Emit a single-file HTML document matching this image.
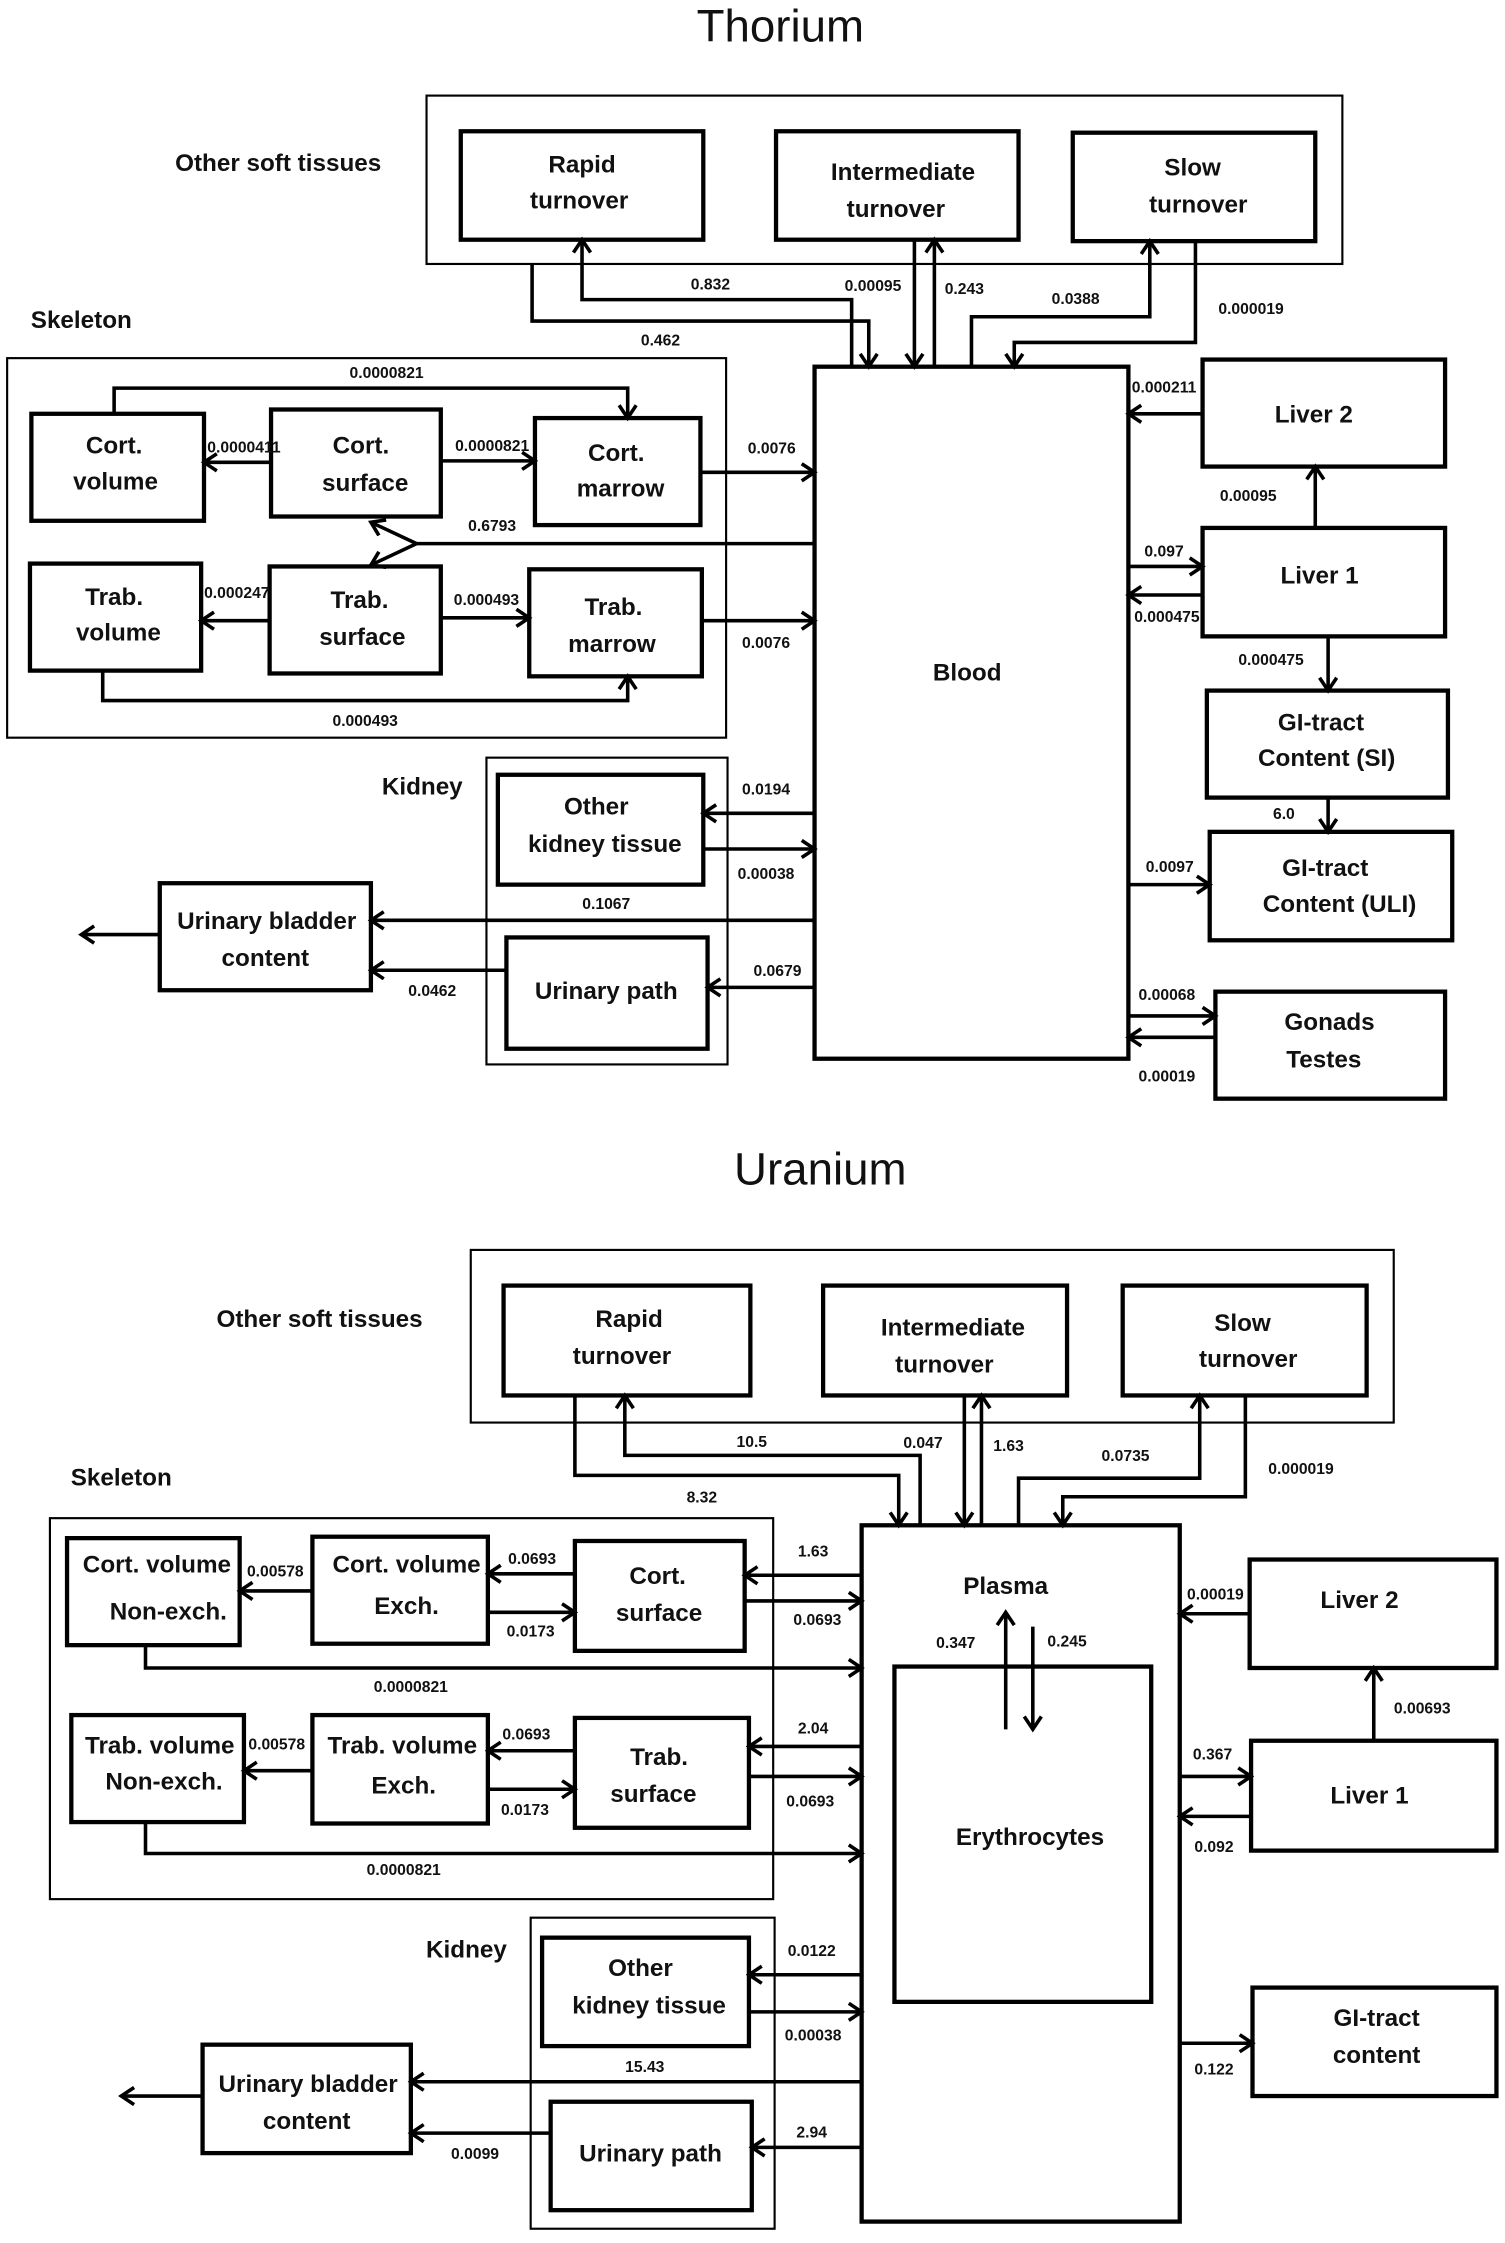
<!DOCTYPE html>
<html><head><meta charset="utf-8"><style>
html,body{margin:0;padding:0;background:#fff}
svg{display:block}
text{font-family:"Liberation Sans",sans-serif;fill:#111}
.b{font-weight:bold;font-size:17px;text-anchor:middle}
.n{font-size:11px;text-anchor:middle;font-weight:bold}
.t{font-size:32px;text-anchor:middle}
.l{font-weight:bold;font-size:17px;text-anchor:middle}
rect.bx{fill:#fff;stroke:#000;stroke-width:3}
rect.c{fill:none;stroke:#000;stroke-width:1.5}
.ln{fill:none;stroke:#000;stroke-width:2.5}
.a{fill:none;stroke:#000;stroke-width:2.5;marker-end:url(#ah)}
</style></head><body>
<svg width="1505" height="2243" viewBox="0 0 1055 1572" preserveAspectRatio="none" xmlns="http://www.w3.org/2000/svg">
<defs><marker id="ah" markerUnits="userSpaceOnUse" markerWidth="16" markerHeight="16" refX="11" refY="7" orient="auto"><path d="M2,1 L11,7 L2,13" fill="none" stroke="#000" stroke-width="2.5"/></marker></defs>

<!-- THORIUM -->
<text class="t" x="547" y="29">Thorium</text>
<rect class="c" x="299" y="67" width="642" height="118"/>
<text class="l" x="195" y="120">Other soft tissues</text>
<rect class="bx" x="323" y="92" width="170" height="76"/><text class="b" x="408" y="121">Rapid</text><text class="b" x="406" y="146">turnover</text>
<rect class="bx" x="544" y="92" width="170" height="76"/><text class="b" x="633" y="126">Intermediate</text><text class="b" x="628" y="152">turnover</text>
<rect class="bx" x="752" y="93" width="170" height="76"/><text class="b" x="836" y="123">Slow</text><text class="b" x="840" y="149">turnover</text>
<rect class="bx" x="571" y="257" width="220" height="485"/><text class="b" x="678" y="477">Blood</text>

<polyline class="a" points="373,185 373,225 609,225 609,257"/><text class="n" x="463" y="242">0.462</text>
<polyline class="a" points="597,257 597,210 408,210 408,168"/><text class="n" x="498" y="203">0.832</text>
<polyline class="a" points="641,168 641,257"/><text class="n" x="612" y="204">0.00095</text>
<polyline class="a" points="655,257 655,168"/><text class="n" x="676" y="206">0.243</text>
<polyline class="a" points="681,257 681,222 806,222 806,169"/><text class="n" x="754" y="213">0.0388</text>
<polyline class="a" points="838,169 838,240 711,240 711,257"/><text class="n" x="877" y="220">0.000019</text>

<rect class="c" x="5" y="251" width="504" height="266"/>
<text class="l" x="57" y="230">Skeleton</text>
<rect class="bx" x="22" y="290" width="121" height="75"/><text class="b" x="80" y="318">Cort.</text><text class="b" x="81" y="343">volume</text>
<rect class="bx" x="190" y="287" width="119" height="75"/><text class="b" x="253" y="318">Cort.</text><text class="b" x="256" y="344">surface</text>
<rect class="bx" x="375" y="293" width="116" height="75"/><text class="b" x="432" y="323">Cort.</text><text class="b" x="435" y="348">marrow</text>
<rect class="bx" x="21" y="395" width="120" height="75"/><text class="b" x="80" y="424">Trab.</text><text class="b" x="83" y="449">volume</text>
<rect class="bx" x="189" y="397" width="120" height="75"/><text class="b" x="252" y="426">Trab.</text><text class="b" x="254" y="452">surface</text>
<rect class="bx" x="371" y="399" width="121" height="75"/><text class="b" x="430" y="431">Trab.</text><text class="b" x="429" y="457">marrow</text>

<polyline class="a" points="80,290 80,272 440,272 440,293"/><text class="n" x="271" y="265">0.0000821</text>
<polyline class="a" points="190,324 143,324"/><text class="n" x="171" y="317">0.0000411</text>
<polyline class="a" points="309,323 375,323"/><text class="n" x="345" y="316">0.0000821</text>
<polyline class="a" points="491,331 571,331"/><text class="n" x="541" y="318">0.0076</text>
<polyline class="ln" points="571,381 292,381"/>
<polyline class="a" points="292,381 260,366"/><polyline class="a" points="292,381 260,396"/>
<text class="n" x="345" y="372">0.6793</text>
<polyline class="a" points="189,435 141,435"/><text class="n" x="166" y="419">0.000247</text>
<polyline class="a" points="309,433 371,433"/><text class="n" x="341" y="424">0.000493</text>
<polyline class="a" points="491,435 571,435"/><text class="n" x="537" y="454">0.0076</text>
<polyline class="a" points="72,470 72,491 440,491 440,474"/><text class="n" x="256" y="509">0.000493</text>

<rect class="c" x="341" y="531" width="169" height="215"/>
<text class="l" x="296" y="557">Kidney</text>
<rect class="bx" x="349" y="543" width="144" height="77"/><text class="b" x="418" y="571">Other</text><text class="b" x="424" y="597">kidney  tissue</text>
<rect class="bx" x="355" y="657" width="141" height="78"/><text class="b" x="425" y="700">Urinary path</text>
<rect class="bx" x="112" y="619" width="148" height="75"/><text class="b" x="187" y="651">Urinary bladder</text><text class="b" x="186" y="677">content</text>
<polyline class="a" points="571,570 493,570"/><text class="n" x="537" y="557">0.0194</text>
<polyline class="a" points="493,595 571,595"/><text class="n" x="537" y="616">0.00038</text>
<polyline class="a" points="571,645 260,645"/><text class="n" x="425" y="637">0.1067</text>
<polyline class="a" points="571,692 496,692"/><text class="n" x="545" y="684">0.0679</text>
<polyline class="a" points="355,680 260,680"/><text class="n" x="303" y="698">0.0462</text>
<polyline class="a" points="112,655 57,655"/>

<rect class="bx" x="843" y="252" width="170" height="75"/><text class="b" x="921" y="296">Liver 2</text>
<rect class="bx" x="843" y="370" width="170" height="76"/><text class="b" x="925" y="409">Liver 1</text>
<rect class="bx" x="846" y="484" width="169" height="75"/><text class="b" x="926" y="512">GI-tract</text><text class="b" x="930" y="537">Content (SI)</text>
<rect class="bx" x="848" y="583" width="170" height="76"/><text class="b" x="929" y="614">GI-tract</text><text class="b" x="939" y="639">Content (ULI)</text>
<rect class="bx" x="852" y="695" width="161" height="75"/><text class="b" x="932" y="722">Gonads</text><text class="b" x="928" y="748">Testes</text>
<polyline class="a" points="843,290 791,290"/><text class="n" x="816" y="275">0.000211</text>
<polyline class="a" points="922,370 922,327"/><text class="n" x="875" y="351">0.00095</text>
<polyline class="a" points="791,397 843,397"/><text class="n" x="816" y="390">0.097</text>
<polyline class="a" points="843,417 791,417"/><text class="n" x="818" y="436">0.000475</text>
<polyline class="a" points="931,446 931,484"/><text class="n" x="891" y="466">0.000475</text>
<polyline class="a" points="931,559 931,583"/><text class="n" x="900" y="574">6.0</text>
<polyline class="a" points="791,620 848,620"/><text class="n" x="820" y="611">0.0097</text>
<polyline class="a" points="791,712 852,712"/><text class="n" x="818" y="701">0.00068</text>
<polyline class="a" points="852,727 791,727"/><text class="n" x="818" y="758">0.00019</text>

<!-- URANIUM -->
<text class="t" x="575" y="830">Uranium</text>
<rect class="c" x="330" y="876" width="647" height="121"/>
<text class="l" x="224" y="930">Other soft tissues</text>
<rect class="bx" x="353" y="901" width="173" height="77"/><text class="b" x="441" y="930">Rapid</text><text class="b" x="436" y="956">turnover</text>
<rect class="bx" x="577" y="901" width="171" height="77"/><text class="b" x="668" y="936">Intermediate</text><text class="b" x="662" y="962">turnover</text>
<rect class="bx" x="787" y="901" width="171" height="77"/><text class="b" x="871" y="933">Slow</text><text class="b" x="875" y="958">turnover</text>
<rect class="bx" x="604" y="1069" width="223" height="488"/>
<rect class="bx" x="627" y="1168" width="180" height="235"/>
<text class="b" x="705" y="1117">Plasma</text>
<text class="b" x="722" y="1293">Erythrocytes</text>
<polyline class="a" points="705,1212 705,1130"/><polyline class="a" points="724,1140 724,1212"/>
<text class="n" x="670" y="1155">0.347</text><text class="n" x="748" y="1154">0.245</text>

<polyline class="a" points="403,978 403,1034 630,1034 630,1069"/><text class="n" x="492" y="1053">8.32</text>
<polyline class="a" points="645,1069 645,1020 438,1020 438,978"/><text class="n" x="527" y="1014">10.5</text>
<polyline class="a" points="676,978 676,1069"/><text class="n" x="647" y="1015">0.047</text>
<polyline class="a" points="688,1069 688,978"/><text class="n" x="707" y="1017">1.63</text>
<polyline class="a" points="714,1069 714,1036 841,1036 841,978"/><text class="n" x="789" y="1024">0.0735</text>
<polyline class="a" points="873,978 873,1049 745,1049 745,1069"/><text class="n" x="912" y="1033">0.000019</text>

<rect class="c" x="35" y="1064" width="507" height="267"/>
<text class="l" x="85" y="1041">Skeleton</text>
<rect class="bx" x="47" y="1078" width="121" height="75"/><text class="b" x="110" y="1102">Cort. volume</text><text class="b" x="118" y="1135">Non-exch.</text>
<rect class="bx" x="219" y="1077" width="123" height="75"/><text class="b" x="285" y="1102">Cort. volume</text><text class="b" x="285" y="1131">Exch.</text>
<rect class="bx" x="403" y="1080" width="119" height="77"/><text class="b" x="461" y="1110">Cort.</text><text class="b" x="462" y="1136">surface</text>
<rect class="bx" x="50" y="1202" width="121" height="75"/><text class="b" x="112" y="1229">Trab. volume</text><text class="b" x="115" y="1254">Non-exch.</text>
<rect class="bx" x="219" y="1202" width="123" height="76"/><text class="b" x="282" y="1229">Trab. volume</text><text class="b" x="283" y="1257">Exch.</text>
<rect class="bx" x="403" y="1204" width="122" height="77"/><text class="b" x="462" y="1237">Trab.</text><text class="b" x="458" y="1263">surface</text>
<polyline class="a" points="219,1115 168,1115"/><text class="n" x="193" y="1105">0.00578</text>
<polyline class="a" points="403,1103 342,1103"/><text class="n" x="373" y="1096">0.0693</text>
<polyline class="a" points="342,1130 403,1130"/><text class="n" x="372" y="1147">0.0173</text>
<polyline class="a" points="604,1104 522,1104"/><text class="n" x="570" y="1091">1.63</text>
<polyline class="a" points="522,1122 604,1122"/><text class="n" x="573" y="1139">0.0693</text>
<polyline class="a" points="102,1153 102,1169 604,1169"/><text class="n" x="288" y="1186">0.0000821</text>
<polyline class="a" points="219,1241 171,1241"/><text class="n" x="194" y="1226">0.00578</text>
<polyline class="a" points="403,1227 342,1227"/><text class="n" x="369" y="1219">0.0693</text>
<polyline class="a" points="342,1254 403,1254"/><text class="n" x="368" y="1272">0.0173</text>
<polyline class="a" points="604,1224 525,1224"/><text class="n" x="570" y="1215">2.04</text>
<polyline class="a" points="525,1245 604,1245"/><text class="n" x="568" y="1266">0.0693</text>
<polyline class="a" points="102,1277 102,1299 604,1299"/><text class="n" x="283" y="1314">0.0000821</text>

<rect class="c" x="372" y="1344" width="171" height="218"/>
<text class="l" x="327" y="1372">Kidney</text>
<rect class="bx" x="380" y="1358" width="145" height="76"/><text class="b" x="449" y="1385">Other</text><text class="b" x="455" y="1411">kidney  tissue</text>
<rect class="bx" x="386" y="1473" width="141" height="76"/><text class="b" x="456" y="1515">Urinary path</text>
<rect class="bx" x="142" y="1433" width="146" height="76"/><text class="b" x="216" y="1466">Urinary bladder</text><text class="b" x="215" y="1492">content</text>
<polyline class="a" points="604,1384 525,1384"/><text class="n" x="569" y="1371">0.0122</text>
<polyline class="a" points="525,1410 604,1410"/><text class="n" x="570" y="1430">0.00038</text>
<polyline class="a" points="604,1459 288,1459"/><text class="n" x="452" y="1452">15.43</text>
<polyline class="a" points="604,1505 527,1505"/><text class="n" x="569" y="1498">2.94</text>
<polyline class="a" points="386,1495 288,1495"/><text class="n" x="333" y="1513">0.0099</text>
<polyline class="a" points="142,1469 85,1469"/>

<rect class="bx" x="876" y="1093" width="173" height="76"/><text class="b" x="953" y="1127">Liver 2</text>
<rect class="bx" x="877" y="1220" width="172" height="77"/><text class="b" x="960" y="1264">Liver 1</text>
<rect class="bx" x="878" y="1393" width="171" height="76"/><text class="b" x="965" y="1420">GI-tract</text><text class="b" x="965" y="1446">content</text>
<polyline class="a" points="876,1131 827,1131"/><text class="n" x="852" y="1121">0.00019</text>
<polyline class="a" points="963,1220 963,1169"/><text class="n" x="997" y="1201">0.00693</text>
<polyline class="a" points="827,1245 877,1245"/><text class="n" x="850" y="1233">0.367</text>
<polyline class="a" points="877,1273 827,1273"/><text class="n" x="851" y="1298">0.092</text>
<polyline class="a" points="827,1432 878,1432"/><text class="n" x="851" y="1454">0.122</text>
</svg>
</body></html>
